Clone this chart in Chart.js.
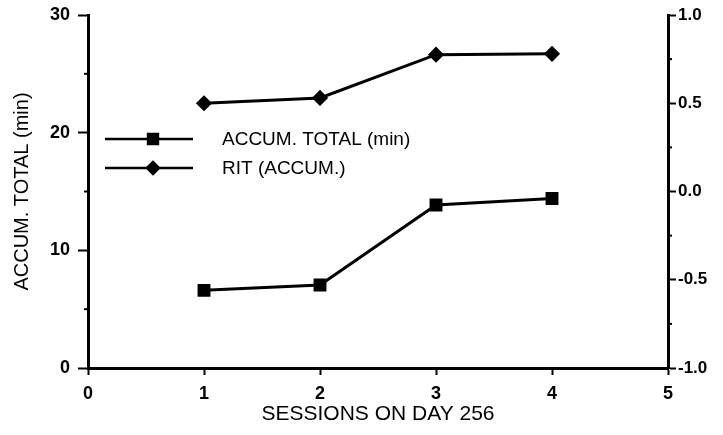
<!DOCTYPE html>
<html lang="en">
<head>
    <meta charset="UTF-8">
    <title>Sessions on day 256</title>
    <style>
        body {
            margin: 0;
            background-color: #fff;
        }
        .wrap {
            width: 723px;
            height: 435px;
        }
    </style>
</head>
<body>
    <div class="wrap">
        <canvas id="chart" width="723" height="435"></canvas>
    </div>

    <script src="https://cdn.jsdelivr.net/npm/chart.js"></script>
    <script>
        const sessions = [1, 2, 3, 4];
        const accumTotal = [6.6, 7.05, 13.85, 14.4];
        const ritAccum = [0.50, 0.53, 0.775, 0.78];
        const seriesNames = ['ACCUM. TOTAL (min)', 'RIT (ACCUM.)'];
        const leftMinor = [5, 15, 25];
        const rightMinor = [-0.75, -0.25, 0.25, 0.75];

        const font = '"Liberation Sans", Arial, sans-serif';

        // minor ticks and the legend inside the plot
        const extras = {
            id: 'extras',
            afterDraw(chart) {
                const ctx = chart.ctx;
                const a = chart.chartArea;
                const y = chart.scales.y;
                const y1 = chart.scales.y1;
                ctx.save();
                ctx.strokeStyle = '#000';
                ctx.fillStyle = '#000';
                ctx.lineWidth = 2;
                leftMinor.forEach(v => {
                    const p = y.getPixelForValue(v);
                    ctx.beginPath();
                    ctx.moveTo(a.left - 4, p);
                    ctx.lineTo(a.left, p);
                    ctx.stroke();
                });
                rightMinor.forEach(v => {
                    const p = y1.getPixelForValue(v);
                    ctx.beginPath();
                    ctx.moveTo(a.right, p);
                    ctx.lineTo(a.right + 4, p);
                    ctx.stroke();
                });

                // legend
                const rows = [
                    { y: 139, style: 'rect', r: 7, label: seriesNames[0] },
                    { y: 168, style: 'rectRot', r: 6, label: seriesNames[1] }
                ];
                ctx.textAlign = 'left';
                ctx.textBaseline = 'middle';
                rows.forEach(r => {
                    ctx.lineWidth = 2.5;
                    ctx.beginPath();
                    ctx.moveTo(105, r.y);
                    ctx.lineTo(193, r.y);
                    ctx.stroke();
                    Chart.helpers.drawPoint(ctx, { pointStyle: r.style, radius: r.r, borderWidth: 1 }, 153, r.y);
                    ctx.fill();
                    ctx.font = '19px ' + font;
                    ctx.fillText(r.label, 222, r.y + 1);
                });
                ctx.restore();
            }
        };

        new Chart(document.getElementById('chart'), {
            type: 'line',
            data: {
                datasets: [
                    {
                        label: seriesNames[0],
                        data: sessions.map((s, i) => ({ x: s, y: accumTotal[i] })),
                        yAxisID: 'y',
                        borderColor: '#000',
                        backgroundColor: '#000',
                        borderWidth: 3,
                        pointStyle: 'rect',
                        pointRadius: 7,
                        tension: 0
                    },
                    {
                        label: seriesNames[1],
                        data: sessions.map((s, i) => ({ x: s, y: ritAccum[i] })),
                        yAxisID: 'y1',
                        borderColor: '#000',
                        backgroundColor: '#000',
                        borderWidth: 3,
                        pointStyle: 'rectRot',
                        pointRadius: 6,
                        tension: 0
                    }
                ]
            },
            options: {
                responsive: false,
                animation: false,
                layout: { padding: 0 },
                plugins: {
                    legend: { display: false },
                    tooltip: { enabled: false }
                },
                scales: {
                    x: {
                        type: 'linear',
                        min: 0,
                        max: 5,
                        ticks: {
                            stepSize: 1,
                            color: '#000',
                            padding: 8,
                            font: { family: font, size: 18, weight: 'bold' }
                        },
                        grid: {
                            drawOnChartArea: false,
                            color: '#000',
                            tickLength: 7,
                            tickWidth: 2
                        },
                        border: { color: '#000', width: 3 },
                        title: {
                            display: true,
                            text: 'SESSIONS ON DAY 256',
                            color: '#000',
                            padding: { top: 0, bottom: 8 },
                            font: { family: font, size: 21 }
                        },
                        afterFit(scale) { scale.height = 67; }
                    },
                    y: {
                        position: 'left',
                        min: 0,
                        max: 30,
                        ticks: {
                            stepSize: 10,
                            color: '#000',
                            padding: 8,
                            font: { family: font, size: 18, weight: 'bold' }
                        },
                        grid: {
                            drawOnChartArea: false,
                            color: '#000',
                            tickLength: 10,
                            tickWidth: 2
                        },
                        border: { color: '#000', width: 3 },
                        title: {
                            display: true,
                            text: 'ACCUM. TOTAL (min)',
                            color: '#000',
                            padding: { top: 10, bottom: 0 },
                            font: { family: font, size: 20 }
                        },
                        afterFit(scale) {
                            scale.width = 88;
                            scale.paddingTop = 15;
                            scale.paddingBottom = 0;
                        }
                    },
                    y1: {
                        position: 'right',
                        min: -1,
                        max: 1,
                        ticks: {
                            stepSize: 0.5,
                            color: '#000',
                            padding: 2,
                            font: { family: font, size: 17, weight: 'bold' },
                            callback: v => v.toFixed(1)
                        },
                        grid: {
                            drawOnChartArea: false,
                            color: '#000',
                            tickLength: 8,
                            tickWidth: 2
                        },
                        border: { color: '#000', width: 3 },
                        afterFit(scale) {
                            scale.width = 55;
                            scale.paddingTop = 15;
                            scale.paddingBottom = 0;
                        }
                    }
                }
            },
            plugins: [extras]
        });
    </script>
</body>
</html>
